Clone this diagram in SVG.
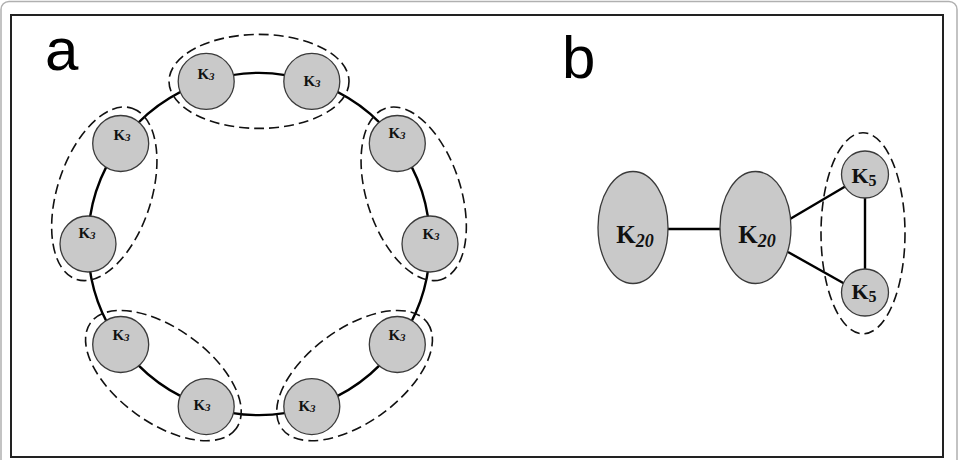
<svg xmlns="http://www.w3.org/2000/svg" width="959" height="460" viewBox="0 0 959 460">
<style>
.node{fill:#c9c9c9;stroke:#3a3a3a;stroke-width:1.3}
.edge{fill:none;stroke:#000;stroke-width:2.4}
.grp{fill:none;stroke:#111;stroke-width:1.6;stroke-dasharray:10 5}
.k{font-family:"Liberation Serif","Times New Roman",serif;font-weight:bold;fill:#111;text-anchor:middle}
.sub{font-style:italic}
.big{font-family:"Liberation Sans",Arial,sans-serif;font-size:60px;fill:#000}
</style>
<rect x="1" y="1.5" width="956" height="480" rx="8" fill="#fff" stroke="#b0b0b0" stroke-width="1.5"/>
<rect x="11" y="15" width="932" height="442" fill="#fff" stroke="#222" stroke-width="2"/>
<text class="big" x="45" y="70">a</text>
<text class="big" x="562" y="78">b</text>

<g id="connectors">
<path class="edge" d="M206.2 81.4 A171 171 0 0 1 311.8 81.4"/>
<path class="edge" d="M311.8 81.4 A171 171 0 0 1 397.3 143.5"/>
<path class="edge" d="M397.3 143.5 A171 171 0 0 1 430 244"/>
<path class="edge" d="M430 244 A171 171 0 0 1 397.3 344.5"/>
<path class="edge" d="M397.3 344.5 A171 171 0 0 1 311.8 406.6"/>
<path class="edge" d="M311.8 406.6 A171 171 0 0 1 206.2 406.6"/>
<path class="edge" d="M206.2 406.6 A171 171 0 0 1 120.7 344.5"/>
<path class="edge" d="M120.7 344.5 A171 171 0 0 1 88 244"/>
<path class="edge" d="M88 244 A171 171 0 0 1 120.7 143.5"/>
<path class="edge" d="M120.7 143.5 A171 171 0 0 1 206.2 81.4"/>
<line class="edge" x1="668" y1="229" x2="721" y2="229"/>
<line class="edge" x1="790" y1="219" x2="846" y2="186"/>
<line class="edge" x1="788" y1="252" x2="845" y2="284"/>
<line class="edge" x1="865" y1="197" x2="865" y2="270"/>
</g>

<g id="a-n10"><circle class="node" cx="206.2" cy="81.4" r="28"/><text class="k" x="206" y="79" font-size="15">K<tspan class="sub" font-size="11" dy="1">3</tspan></text></g>
<g id="a-n1"><circle class="node" cx="311.8" cy="81.4" r="28"/><text class="k" x="312" y="86" font-size="15">K<tspan class="sub" font-size="11" dy="1">3</tspan></text></g>
<g id="a-n2"><circle class="node" cx="397.3" cy="143.5" r="28"/><text class="k" x="397" y="138" font-size="15">K<tspan class="sub" font-size="11" dy="1">3</tspan></text></g>
<g id="a-n3"><circle class="node" cx="430" cy="244" r="28"/><text class="k" x="431" y="239" font-size="15">K<tspan class="sub" font-size="11" dy="1">3</tspan></text></g>
<g id="a-n4"><circle class="node" cx="397.3" cy="344.5" r="28"/><text class="k" x="397" y="340" font-size="15">K<tspan class="sub" font-size="11" dy="1">3</tspan></text></g>
<g id="a-n5"><circle class="node" cx="311.8" cy="406.6" r="28"/><text class="k" x="307" y="411" font-size="15">K<tspan class="sub" font-size="11" dy="1">3</tspan></text></g>
<g id="a-n6"><circle class="node" cx="206.2" cy="406.6" r="28"/><text class="k" x="202" y="410" font-size="15">K<tspan class="sub" font-size="11" dy="1">3</tspan></text></g>
<g id="a-n7"><circle class="node" cx="120.7" cy="344.5" r="28"/><text class="k" x="121" y="340" font-size="15">K<tspan class="sub" font-size="11" dy="1">3</tspan></text></g>
<g id="a-n8"><circle class="node" cx="88" cy="244" r="28"/><text class="k" x="87" y="238" font-size="15">K<tspan class="sub" font-size="11" dy="1">3</tspan></text></g>
<g id="a-n9"><circle class="node" cx="120.7" cy="143.5" r="28"/><text class="k" x="122" y="140" font-size="15">K<tspan class="sub" font-size="11" dy="1">3</tspan></text></g>

<g id="a-groups">
<ellipse class="grp" cx="259" cy="81.4" rx="90" ry="47"/>
<ellipse class="grp" cx="413.7" cy="193.8" rx="90" ry="47" transform="rotate(72 413.7 193.8)"/>
<ellipse class="grp" cx="354.6" cy="375.6" rx="90" ry="47" transform="rotate(-36 354.6 375.6)"/>
<ellipse class="grp" cx="163.4" cy="375.6" rx="90" ry="47" transform="rotate(36 163.4 375.6)"/>
<ellipse class="grp" cx="104.3" cy="193.8" rx="90" ry="47" transform="rotate(-72 104.3 193.8)"/>
</g>

<g id="b-k20-left"><ellipse class="node" cx="633" cy="227.5" rx="35" ry="56"/><text class="k" x="635" y="243" font-size="25">K<tspan class="sub" font-size="18" dy="4">20</tspan></text></g>
<g id="b-k20-right"><ellipse class="node" cx="755.5" cy="227.5" rx="35.5" ry="56"/><text class="k" x="757" y="243" font-size="25">K<tspan class="sub" font-size="18" dy="4">20</tspan></text></g>
<g id="b-k5-top"><circle class="node" cx="865" cy="174.5" r="23.5"/><text class="k" x="864" y="183" font-size="22">K<tspan font-size="16" dy="3">5</tspan></text></g>
<g id="b-k5-bottom"><circle class="node" cx="865" cy="292.5" r="23.5"/><text class="k" x="864" y="299" font-size="22">K<tspan font-size="16" dy="3">5</tspan></text></g>
<g id="b-group"><ellipse class="grp" cx="863" cy="233.3" rx="42" ry="100.5"/></g>
</svg>
